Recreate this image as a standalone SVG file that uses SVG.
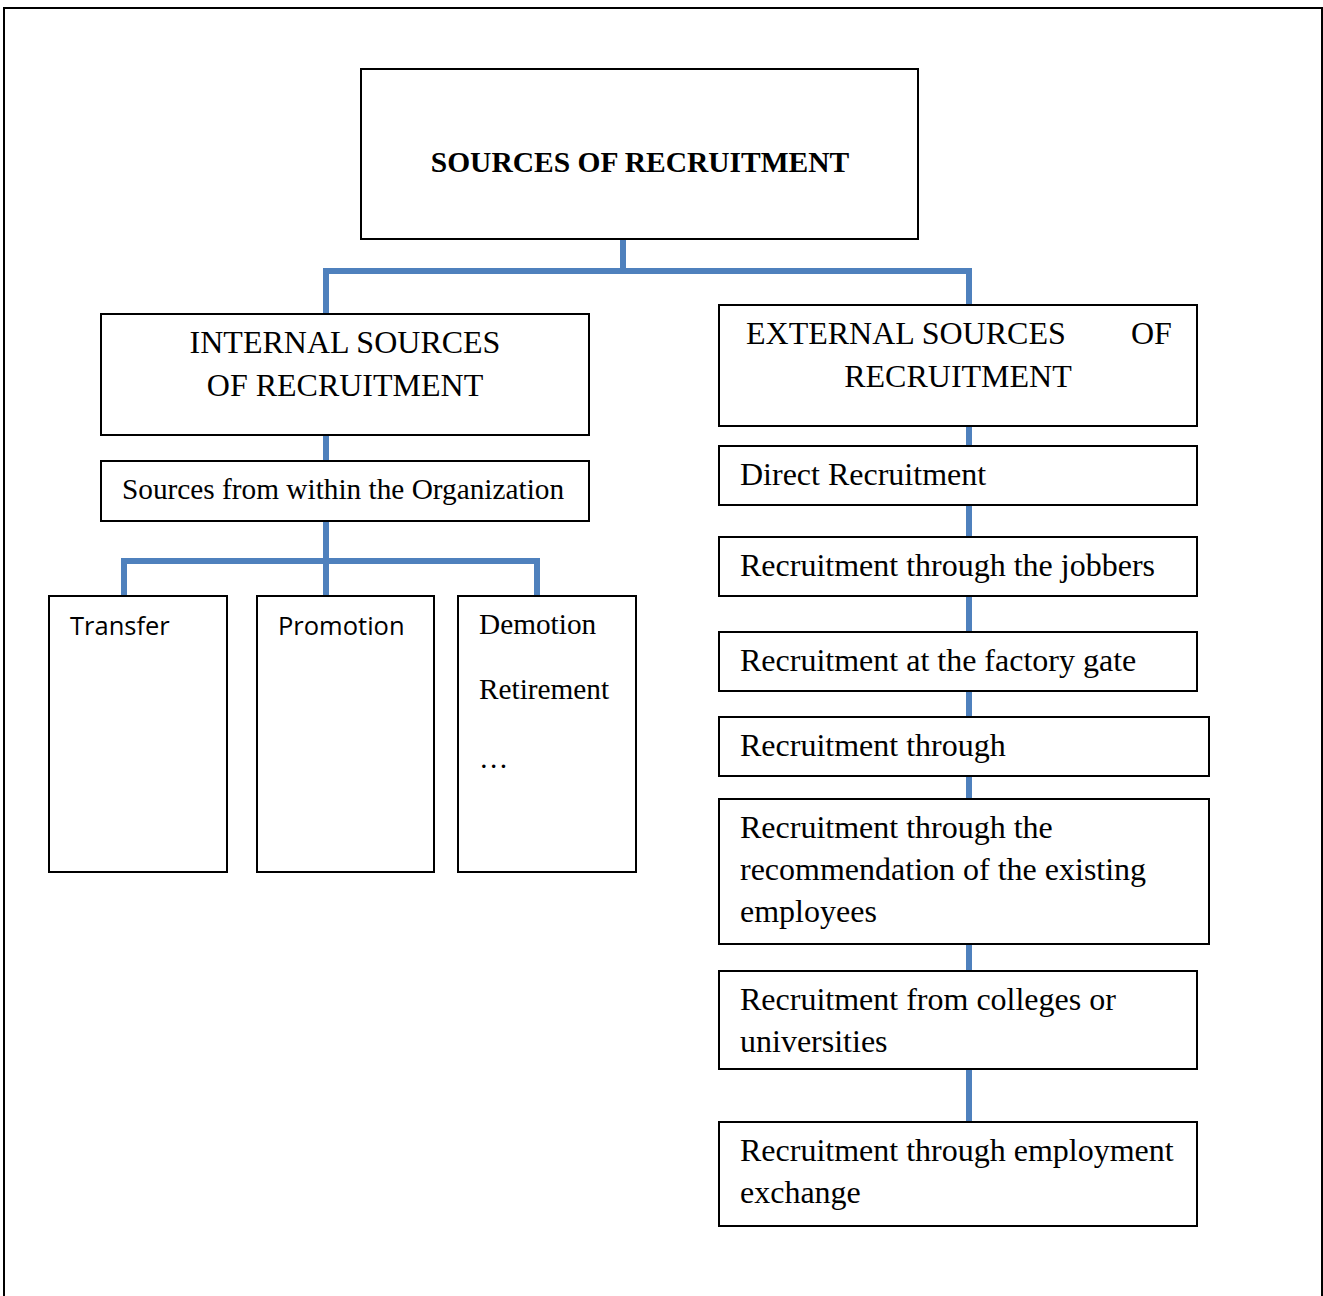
<svg xmlns="http://www.w3.org/2000/svg" width="1323" height="1296" viewBox="0 0 1323 1296">
  <style>
    .box { fill: #ffffff; stroke: #000000; stroke-width: 2; }
    .frame { fill: none; stroke: #000000; stroke-width: 2; }
    .link { fill: none; stroke: #4F81BD; stroke-width: 6; stroke-linecap: butt; stroke-linejoin: miter; }
    .serif { font-family: "Liberation Serif", "Times New Roman", serif; fill: #000000; }
    .sans { font-family: "Open Sans", "Liberation Sans", sans-serif; fill: #000000; }
    .title { font-size: 29.5px; font-weight: bold; }
    .head { font-size: 32px; }
    .item { font-size: 32px; }
    .sub { font-size: 29.3px; }
    .small { font-size: 25.5px; }
  </style>

  <!-- page frame -->
  <rect class="frame" x="4" y="8" width="1318" height="1300"/>

  <!-- connectors -->
  <g id="connectors">
    <path class="link" d="M623,239 V271 M326,314 V271 H969 V305"/>
    <path class="link" d="M326,435 V461"/>
    <path class="link" d="M326,521 V596 M124,596 V561 H537 V596"/>
    <path class="link" d="M969,426 V446 M969,505 V537 M969,596 V632 M969,691 V717 M969,776 V799 M969,944 V971 M969,1069 V1122"/>
  </g>

  <g id="root">
    <rect class="box" x="361" y="69" width="557" height="170"/>
    <text class="serif title" x="640" y="172" text-anchor="middle">SOURCES OF RECRUITMENT</text>
  </g>

  <g id="internal">
    <rect class="box" x="101" y="314" width="488" height="121"/>
    <text class="serif head" x="345" y="353" text-anchor="middle">INTERNAL SOURCES</text>
    <text class="serif head" x="345" y="396" text-anchor="middle">OF RECRUITMENT</text>
  </g>

  <g id="within">
    <rect class="box" x="101" y="461" width="488" height="60"/>
    <text class="serif sub" x="122" y="499">Sources from within the Organization</text>
  </g>

  <g id="transfer">
    <rect class="box" x="49" y="596" width="178" height="276"/>
    <text class="sans small" x="70" y="635">Transfer</text>
  </g>

  <g id="promotion">
    <rect class="box" x="257" y="596" width="177" height="276"/>
    <text class="sans small" x="278" y="635">Promotion</text>
  </g>

  <g id="demotion">
    <rect class="box" x="458" y="596" width="178" height="276"/>
    <text class="serif sub" x="479" y="634">Demotion</text>
    <text class="serif sub" x="479" y="699">Retirement</text>
    <text class="serif sub" x="479" y="768">…</text>
  </g>

  <g id="external">
    <rect class="box" x="719" y="305" width="478" height="121"/>
    <text class="serif head" x="746" y="344">EXTERNAL SOURCES</text>
    <text class="serif head" x="1131" y="344">OF</text>
    <text class="serif head" x="958" y="387" text-anchor="middle">RECRUITMENT</text>
  </g>

  <g id="direct">
    <rect class="box" x="719" y="446" width="478" height="59"/>
    <text class="serif item" x="740" y="485">Direct Recruitment</text>
  </g>

  <g id="jobbers">
    <rect class="box" x="719" y="537" width="478" height="59"/>
    <text class="serif item" x="740" y="576">Recruitment through the jobbers</text>
  </g>

  <g id="factory-gate">
    <rect class="box" x="719" y="632" width="478" height="59"/>
    <text class="serif item" x="740" y="671">Recruitment at the factory gate</text>
  </g>

  <g id="through">
    <rect class="box" x="719" y="717" width="490" height="59"/>
    <text class="serif item" x="740" y="756">Recruitment through</text>
  </g>

  <g id="recommendation">
    <rect class="box" x="719" y="799" width="490" height="145"/>
    <text class="serif item" x="740" y="838">Recruitment through the</text>
    <text class="serif item" x="740" y="880">recommendation of the existing</text>
    <text class="serif item" x="740" y="922">employees</text>
  </g>

  <g id="colleges">
    <rect class="box" x="719" y="971" width="478" height="98"/>
    <text class="serif item" x="740" y="1010">Recruitment from colleges or</text>
    <text class="serif item" x="740" y="1052">universities</text>
  </g>

  <g id="employment-exchange">
    <rect class="box" x="719" y="1122" width="478" height="104"/>
    <text class="serif item" x="740" y="1161">Recruitment through employment</text>
    <text class="serif item" x="740" y="1203">exchange</text>
  </g>
</svg>
